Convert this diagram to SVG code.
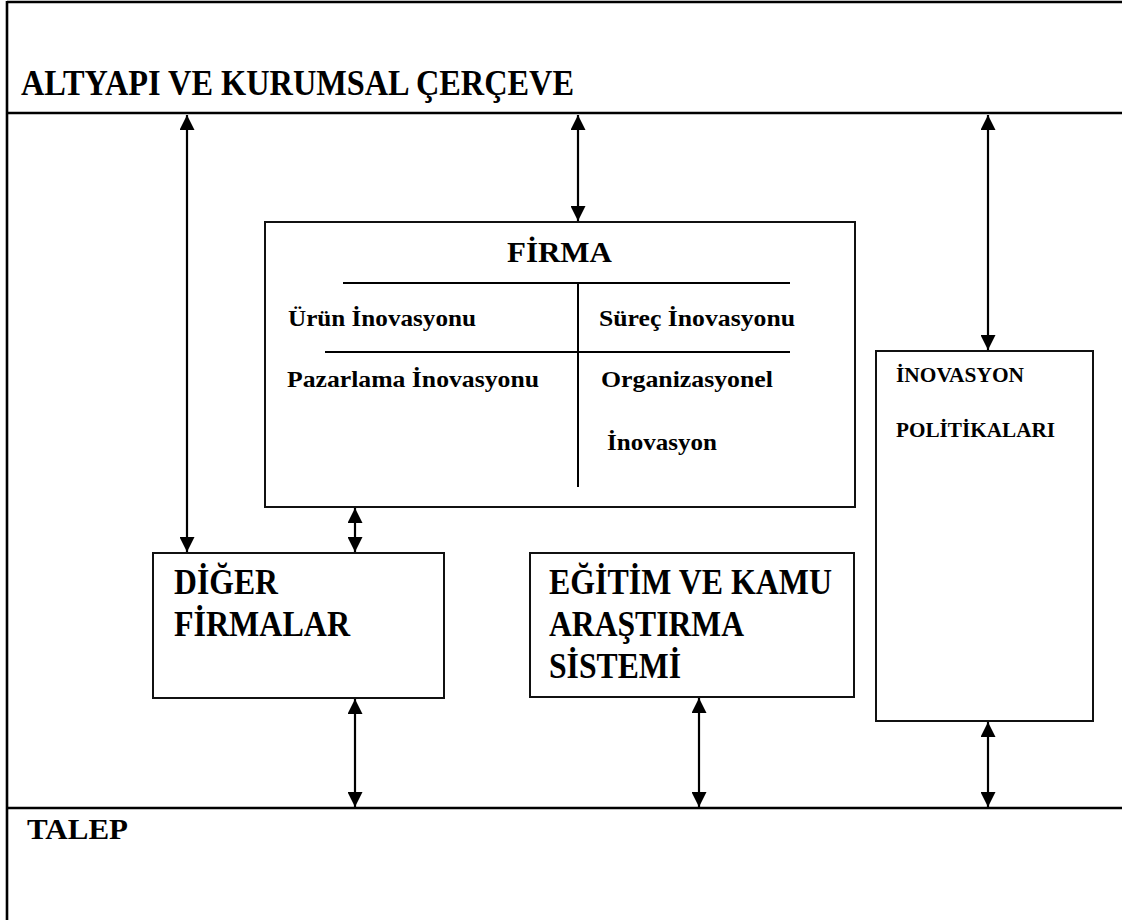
<svg xmlns="http://www.w3.org/2000/svg" width="1122" height="920" viewBox="0 0 1122 920">
<defs>
<style>
.frame{stroke:#000;stroke-width:2.6;fill:none}
.box{stroke:#111;stroke-width:2;fill:#fff}
.div{stroke:#000;stroke-width:2;fill:none}
.con{stroke:#000;stroke-width:2.2;fill:none;marker-start:url(#ah);marker-end:url(#ah)}
text{font-family:"Liberation Serif","Times New Roman",serif;font-weight:bold;fill:#000}
.big{font-size:36px}
.mid{font-size:29px}
.sm{font-size:23px}
.xs{font-size:21px}
</style>
<marker id="ah" viewBox="0 0 10 10" refX="10" refY="5" markerUnits="userSpaceOnUse" markerWidth="15" markerHeight="15" orient="auto-start-reverse">
<path d="M0,0 L10,5 L0,10 z" fill="#000"/>
</marker>
</defs>
<rect width="1122" height="920" fill="#fff"/>
<g id="frame">
<line class="frame" x1="7" y1="2" x2="1122" y2="2"/>
<line class="frame" x1="7" y1="1" x2="7" y2="920"/>
<line class="frame" x1="7" y1="113" x2="1122" y2="113"/>
<line class="frame" x1="7" y1="808" x2="1122" y2="808"/>
</g>
<g id="altyapi">
<text class="big" x="21" y="95" textLength="553" lengthAdjust="spacingAndGlyphs">ALTYAPI VE KURUMSAL ÇERÇEVE</text>
</g>
<g id="talep">
<text class="mid" x="27" y="839" textLength="101" lengthAdjust="spacingAndGlyphs">TALEP</text>
</g>
<g id="firma">
<rect class="box" x="265" y="222" width="590" height="285"/>
<text class="mid" x="507" y="262" textLength="105" lengthAdjust="spacingAndGlyphs">FİRMA</text>
<line class="div" x1="343" y1="283" x2="790" y2="283"/>
<line class="div" x1="325" y1="352" x2="790" y2="352"/>
<line class="div" x1="578" y1="283" x2="578" y2="487"/>
<text class="sm" x="288" y="326" textLength="188" lengthAdjust="spacingAndGlyphs">Ürün İnovasyonu</text>
<text class="sm" x="599" y="326" textLength="196" lengthAdjust="spacingAndGlyphs">Süreç İnovasyonu</text>
<text class="sm" x="287" y="387" textLength="252" lengthAdjust="spacingAndGlyphs">Pazarlama İnovasyonu</text>
<text class="sm" x="601" y="387" textLength="172" lengthAdjust="spacingAndGlyphs">Organizasyonel</text>
<text class="sm" x="607" y="450" textLength="110" lengthAdjust="spacingAndGlyphs">İnovasyon</text>
</g>
<g id="diger">
<rect class="box" x="153" y="553" width="291" height="145"/>
<text class="big" x="174" y="594" textLength="104" lengthAdjust="spacingAndGlyphs">DİĞER</text>
<text class="big" x="174" y="636" textLength="176" lengthAdjust="spacingAndGlyphs">FİRMALAR</text>
</g>
<g id="egitim">
<rect class="box" x="530" y="553" width="324" height="144"/>
<text class="big" x="549" y="594" textLength="283" lengthAdjust="spacingAndGlyphs">EĞİTİM VE KAMU</text>
<text class="big" x="549" y="636" textLength="195" lengthAdjust="spacingAndGlyphs">ARAŞTIRMA</text>
<text class="big" x="549" y="678" textLength="132" lengthAdjust="spacingAndGlyphs">SİSTEMİ</text>
</g>
<g id="politikalar">
<rect class="box" x="876" y="351" width="217" height="370"/>
<text class="xs" x="896" y="382" textLength="128" lengthAdjust="spacingAndGlyphs">İNOVASYON</text>
<text class="xs" x="896" y="437" textLength="159" lengthAdjust="spacingAndGlyphs">POLİTİKALARI</text>
</g>
<g id="connectors">
<line class="con" x1="187" y1="115" x2="187" y2="552"/>
<line class="con" x1="578" y1="115" x2="578" y2="221"/>
<line class="con" x1="988" y1="115" x2="988" y2="350"/>
<line class="con" x1="355" y1="508" x2="355" y2="552"/>
<line class="con" x1="355" y1="699" x2="355" y2="807"/>
<line class="con" x1="699" y1="698" x2="699" y2="807"/>
<line class="con" x1="988" y1="722" x2="988" y2="807"/>
</g>
</svg>
